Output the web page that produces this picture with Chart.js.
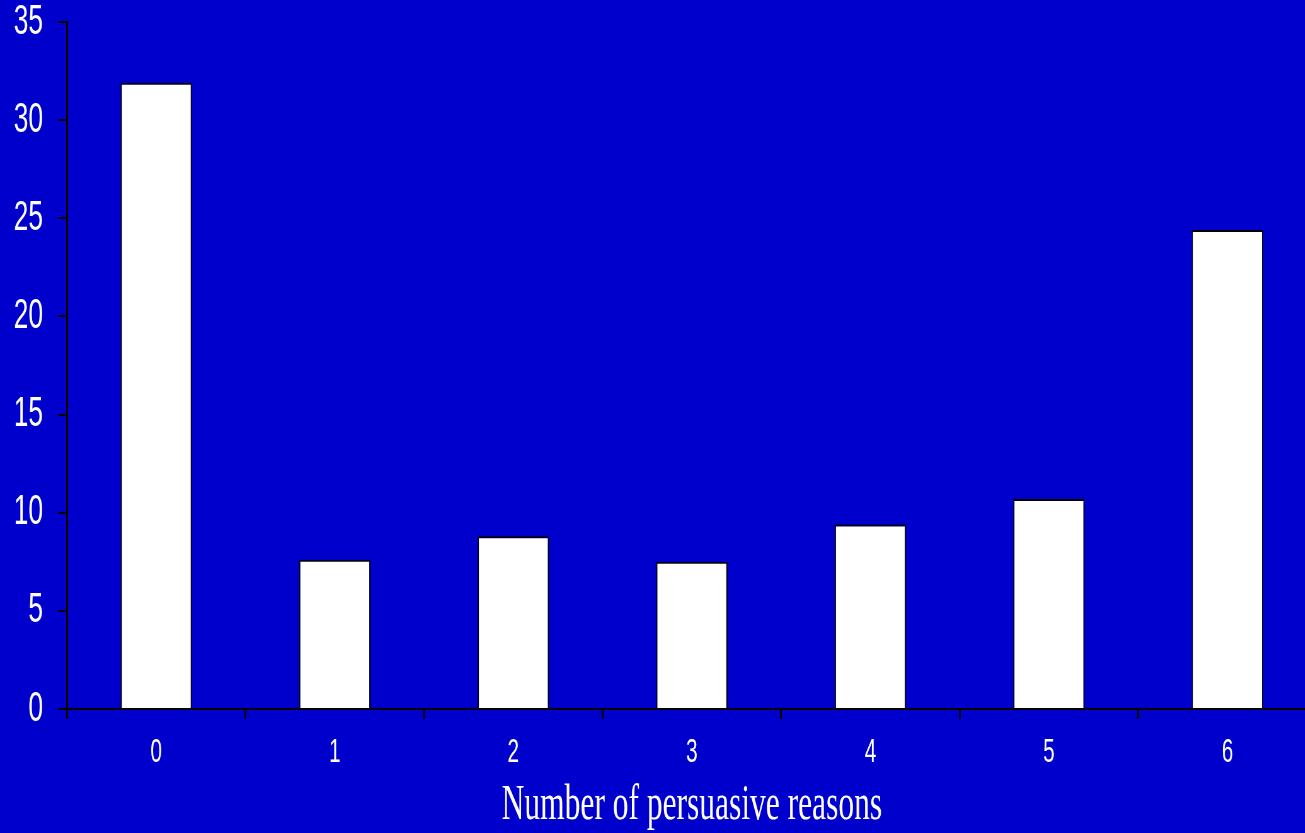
<!DOCTYPE html>
<html>
<head>
<meta charset="utf-8">
<script src="https://cdn.jsdelivr.net/npm/chart.js@4"></script>
<style>
  html, body { margin: 0; padding: 0; background: #0000CC; overflow: hidden; }
  #wrap {
    width: 2095px; height: 833px;
    transform: scaleX(0.63); transform-origin: 0 0;
  }
</style>
</head>
<body>
<div id="wrap"><canvas id="chart" width="2095" height="833"></canvas></div>
<script>
// --- Data ---
const categories = ["0", "1", "2", "3", "4", "5", "6"];
const percentages = [31.9, 7.6, 8.8, 7.5, 9.4, 10.7, 24.4];
const yTicks = [0, 5, 10, 15, 20, 25, 30, 35];
const xTitle = "Number of persuasive reasons";

// the original picture is squeezed horizontally, so the canvas is too
const squeeze = 0.63;

const ctx = document.getElementById("chart").getContext("2d");
const chart = new Chart(ctx, {
    type: "bar",
    data: {
        labels: categories,
        datasets: [{
            data: percentages,
            backgroundColor: "#FFFFFF",
            borderColor: "#000000",
            borderWidth: 2,
            barPercentage: 0.4,
            categoryPercentage: 1
        }]
    },
    options: {
        responsive: false,
        animation: false,
        layout: { padding: { top: 22, right: 5, bottom: 0, left: 0 } },
        plugins: {
            legend: { display: false },
            tooltip: { enabled: false }
        },
        scales: {
            x: {
                grid: { drawOnChartArea: false, drawTicks: true, tickLength: 10, color: "#000", lineWidth: 3 },
                border: { display: true, color: "#000", width: 2 },
                ticks: { color: "#FFF", padding: 14, font: { family: "Liberation Sans", size: 33 } },
                title: {
                    display: true,
                    text: xTitle,
                    color: "#FFF",
                    padding: { top: 0, bottom: 0 },
                    font: { family: "Liberation Serif", size: 50, lineHeight: 1.1 }
                },
                afterFit: (axis) => {
                    axis.height = 124;
                    axis.paddingLeft = 0;
                    axis.paddingRight = 0;
                }
            },
            y: {
                min: 0,
                max: 35,
                afterBuildTicks: (axis) => { axis.ticks = yTicks.map(v => ({ value: v })); },
                grid: { drawOnChartArea: false, drawTicks: true, tickLength: 14, color: "#000", lineWidth: 2 },
                border: { display: true, color: "#000", width: 3 },
                ticks: { color: "#FFF", padding: 24, font: { family: "Liberation Sans", size: 42 } },
                afterFit: (axis) => {
                    axis.width = 67 / squeeze;
                    axis.paddingTop = 0;
                    axis.paddingBottom = 0;
                }
            }
        }
    }
});
</script>
</body>
</html>
